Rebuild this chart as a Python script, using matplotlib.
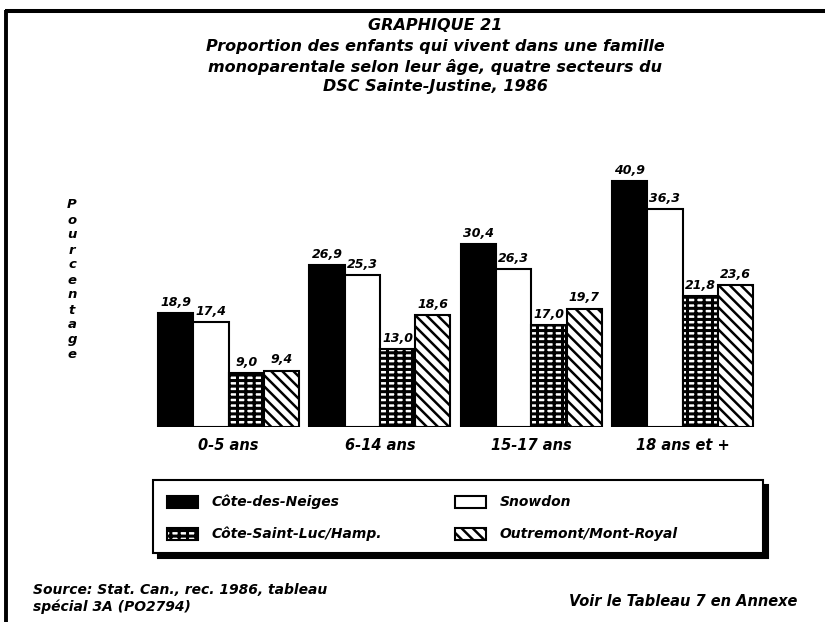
import matplotlib
matplotlib.use("Agg")
import matplotlib.pyplot as plt
from matplotlib.patches import Rectangle
import numpy as np

categories = ["0-5 ans", "6-14 ans", "15-17 ans", "18 ans et +"]
series_names = ["Côte-des-Neiges", "Snowdon", "Côte-Saint-Luc/Hamp.", "Outremont/Mont-Royal"]
cote_des_neiges = [18.9, 26.9, 30.4, 40.9]
snowdon = [17.4, 25.3, 26.3, 36.3]
cote_saint_luc = [9.0, 13.0, 17.0, 21.8]
outremont = [9.4, 18.6, 19.7, 23.6]
value_labels = [
    ["18,9", "26,9", "30,4", "40,9"],
    ["17,4", "25,3", "26,3", "36,3"],
    ["9,0", "13,0", "17,0", "21,8"],
    ["9,4", "18,6", "19,7", "23,6"],
]
title_lines = [
    "GRAPHIQUE 21",
    "Proportion des enfants qui vivent dans une famille",
    "monoparentale selon leur âge, quatre secteurs du",
    "DSC Sainte-Justine, 1986",
]
ylabel_text = "Pourcentage"
source_lines = ["Source: Stat. Can., rec. 1986, tableau", "spécial 3A (PO2794)"]
note_text = "Voir le Tableau 7 en Annexe"

W, H = 825, 622
plt.rcParams['font.family'] = ['DejaVu Sans']
FONT = dict(fontweight='bold', fontstyle='italic', color='black')

fig = plt.figure(figsize=(W / 100, H / 100), dpi=100)

# bar axes placed in pixel geometry
ax_l, ax_r, ax_b, ax_t = 140, 780, 427, 160
group_px = 151.3
bar_px = 35.3
c0 = 158 + 2 * bar_px
xl = -(c0 - ax_l) / group_px
xr = (ax_r - c0) / group_px
ppu = 6.01
ax = fig.add_axes([ax_l / W, 1 - ax_b / H, (ax_r - ax_l) / W, (ax_b - ax_t) / H])
ax.set_xlim(xl, xr)
ax.set_ylim(0, (ax_b - ax_t) / ppu)
for s in ax.spines.values():
    s.set_visible(False)
ax.set_yticks([])
ax.patch.set_alpha(0)

x = np.arange(len(categories))
w = bar_px / group_px
series = [cote_des_neiges, snowdon, cote_saint_luc, outremont]
styles = [
    dict(facecolor='black', hatch=None, hl=1.0),
    dict(facecolor='white', hatch=None, hl=1.0),
    dict(facecolor='white', hatch='++-', hl=2.2),
    dict(facecolor='white', hatch='\\\\\\', hl=1.8),
]
for i, (vals, st) in enumerate(zip(series, styles)):
    with plt.rc_context({'hatch.linewidth': st['hl']}):
        bars = ax.bar(x + (i - 1.5) * w, vals, width=w, facecolor=st['facecolor'],
                      edgecolor='black', linewidth=1.5, hatch=st['hatch'])
    for b, lab in zip(bars, value_labels[i]):
        ax.annotate(lab, (b.get_x() + b.get_width() / 2, b.get_height()),
                    xytext=(0, 3), textcoords='offset points', ha='center', va='bottom',
                    fontsize=9, **FONT)

ax.set_xticks(x)
ax.set_xticklabels(categories, fontsize=10.5, **FONT)
ax.tick_params(axis='x', length=0, pad=8)

# overlay in pixel coordinates
ov = fig.add_axes([0, 0, 1, 1], zorder=5)
ov.set_xlim(0, W)
ov.set_ylim(H, 0)
ov.axis('off')
ov.patch.set_alpha(0)

# page frame lines
ov.plot([5, W], [11, 11], color='black', lw=2.9, solid_capstyle='butt')
ov.plot([6, 6], [10, H], color='black', lw=2.8, solid_capstyle='butt')

# title
title_y = [26, 47, 67, 87]
for t, yy in zip(title_lines, title_y):
    ov.text(435, yy, t, ha='center', va='center', fontsize=11.5, **FONT)

# vertical stacked y label
for k, ch in enumerate(ylabel_text):
    ov.text(72, 205 + k * 15, ch, ha='center', va='center', fontsize=9.5, **FONT)

# legend box with shadow
lx0, ly0, lw_, lh_ = 153, 480, 610, 73
ov.add_patch(Rectangle((lx0 + 5, ly0 + 5), lw_, lh_, facecolor='black', edgecolor='black', lw=1.5))
ov.add_patch(Rectangle((lx0, ly0), lw_, lh_, facecolor='white', edgecolor='black', lw=1.5))
leg_pos = [(167, 502), (167, 534), (455, 502), (455, 534)]
order = [0, 2, 1, 3]
for (px, py), idx in zip(leg_pos, order):
    st = styles[idx]
    with plt.rc_context({'hatch.linewidth': st['hl']}):
        ov.add_patch(Rectangle((px, py - 6), 31, 12, facecolor=st['facecolor'],
                               edgecolor='black', lw=1.5, hatch=st['hatch']))
    ov.text(px + 45, py, series_names[idx], ha='left', va='center', fontsize=10, **FONT)

# footer
ov.text(33, 590, source_lines[0], ha='left', va='center', fontsize=10, **FONT)
ov.text(33, 607, source_lines[1], ha='left', va='center', fontsize=10, **FONT)
ov.text(797, 602, note_text, ha='right', va='center', fontsize=10.5, **FONT)

fig.savefig("out.png", dpi=100)
